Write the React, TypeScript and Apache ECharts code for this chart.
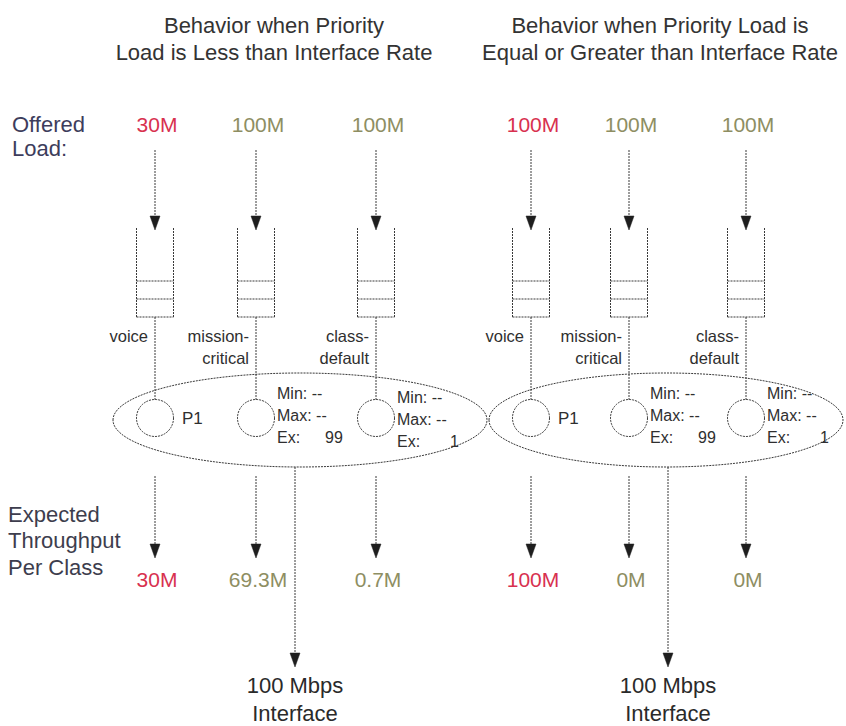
import React, { useEffect, useRef } from "react";
import * as echarts from "echarts";

// ---- content ----
const panelTitles = [
  ["Behavior when Priority", "Load is Less than Interface Rate"],
  ["Behavior when Priority Load is", "Equal or Greater than Interface Rate"],
];
const offeredLabel = ["Offered", "Load:"];
const throughputLabel = ["Expected", "Throughput", "Per Class"];
const classNames = [["voice"], ["mission-", "critical"], ["class-", "default"]];
const offeredLoad = [
  ["30M", "100M", "100M"],
  ["100M", "100M", "100M"],
];
const expectedThroughput = [
  ["30M", "69.3M", "0.7M"],
  ["100M", "0M", "0M"],
];
const priorityLabel = "P1";
const minValues = ["--", "--"]; // mission-critical, class-default
const maxValues = ["--", "--"];
const excessValues = ["99", "1"];
const interfaceLabel = ["100 Mbps", "Interface"];

// ---- layout ----
const COLS = [
  [155, 256, 376],
  [531, 629, 746],
];
const TITLE_X = [274, 660];
const ELLIPSES = [
  { cx: 300, rx: 187 },
  { cx: 666, rx: 177 },
];
const IFACE_X = [295, 668];
const FONT = "'Liberation Sans', Arial, Helvetica, sans-serif";
const RED = "#d8314f";
const OLIVE = "#8e8e62";
const DOT = { stroke: "#3a3a3a", lineWidth: 1, lineDash: [2, 1] };

function textLines(
  x: number,
  baseline: number,
  spacing: number,
  lines: string[],
  fontSize: number,
  fill: string,
  align: string
) {
  return lines.map((t, i) => ({
    type: "text",
    silent: true,
    x,
    y: baseline + i * spacing - 0.35 * fontSize,
    style: {
      text: t,
      fontFamily: FONT,
      fontSize,
      fill,
      align,
      verticalAlign: "middle",
    },
  }));
}

function vline(x: number, y1: number, y2: number) {
  return { type: "line", silent: true, shape: { x1: x, y1, x2: x, y2 }, style: DOT };
}
function hline(x1: number, x2: number, y: number) {
  return { type: "line", silent: true, shape: { x1, y1: y, x2, y2: y }, style: DOT };
}
function arrow(x: number, y1: number, tip: number) {
  return [
    vline(x, y1, tip - 8),
    {
      type: "polygon",
      silent: true,
      shape: { points: [[x - 5, tip - 14], [x + 5, tip - 14], [x, tip]] },
      style: { fill: "#1e1e1e", stroke: "#1e1e1e", lineWidth: 0.5 },
    },
  ];
}

function buildGraphics() {
  const els: any[] = [];
  // titles
  panelTitles.forEach((t, p) => {
    els.push(...textLines(TITLE_X[p], 33, 27, t, 22, "#333333", "center"));
  });
  // row labels
  els.push(...textLines(12, 132, 24, offeredLabel, 22, "#3d3d5c", "left"));
  els.push(...textLines(8, 522, 26.5, throughputLabel, 22, "#3d3d4d", "left"));

  for (let p = 0; p < 2; p++) {
    const e = ELLIPSES[p];
    els.push({
      type: "ellipse",
      silent: true,
      shape: { cx: e.cx, cy: 420, rx: e.rx, ry: 47 },
      style: { fill: "none", ...DOT },
    });
    COLS[p].forEach((cx, i) => {
      const col = i === 0 ? RED : OLIVE;
      // offered load
      els.push(...textLines(cx + 2, 132, 0, [offeredLoad[p][i]], 21, col, "center"));
      els.push(...arrow(cx, 150, 230));
      // queue
      const hw = 18.5;
      els.push(vline(cx - hw, 228, 317));
      els.push(vline(cx + hw, 228, 317));
      els.push(hline(cx - hw, cx + hw, 317));
      els.push(hline(cx - hw, cx + hw, 281));
      els.push(hline(cx - hw, cx + hw, 299));
      els.push(vline(cx, 317, 399.5));
      // class name
      els.push(...textLines(cx - 7, 342, 22, classNames[i], 16.5, "#2f2f2f", "right"));
      // scheduler circle
      els.push({
        type: "circle",
        silent: true,
        shape: { cx, cy: 418, r: 18.5 },
        style: { fill: "none", ...DOT },
      });
      if (i === 0) {
        els.push(...textLines(cx + 27, 424, 0, [priorityLabel], 17, "#2f2f2f", "left"));
      } else {
        const k = i - 1;
        const dy = p === 0 && i === 2 ? 4 : 0;
        els.push(...textLines(cx + 21, 399 + dy, 0, ["Min: " + minValues[k]], 16, "#2f2f2f", "left"));
        els.push(...textLines(cx + 21, 421 + dy, 0, ["Max: " + maxValues[k]], 16, "#2f2f2f", "left"));
        els.push(...textLines(cx + 21, 443 + dy, 0, ["Ex:"], 16, "#2f2f2f", "left"));
        els.push(
          ...textLines(cx + (k === 0 ? 69 : 74), 443 + dy, 0, [excessValues[k]], 16, "#2f2f2f", "left")
        );
      }
      // throughput
      els.push(...arrow(cx, 476, 558));
      els.push(...textLines(cx + 2, 587, 0, [expectedThroughput[p][i]], 21, col, "center"));
    });
    // interface
    els.push(...arrow(IFACE_X[p], 467, 667));
    els.push(...textLines(IFACE_X[p], 693, 28, interfaceLabel, 22, "#2a2a2a", "center"));
  }
  return els;
}

export default function App() {
  const ref = useRef<HTMLDivElement>(null);
  useEffect(() => {
    if (!ref.current) return;
    const chart = echarts.init(ref.current, undefined, { renderer: "svg" });
    chart.setOption({
      animation: false,
      backgroundColor: "#ffffff",
      graphic: { elements: buildGraphics() },
    });
    return () => chart.dispose();
  }, []);
  return (
    <div
      ref={ref}
      style={{ position: "fixed", left: 0, top: 0, width: 846, height: 726 }}
    />
  );
}
